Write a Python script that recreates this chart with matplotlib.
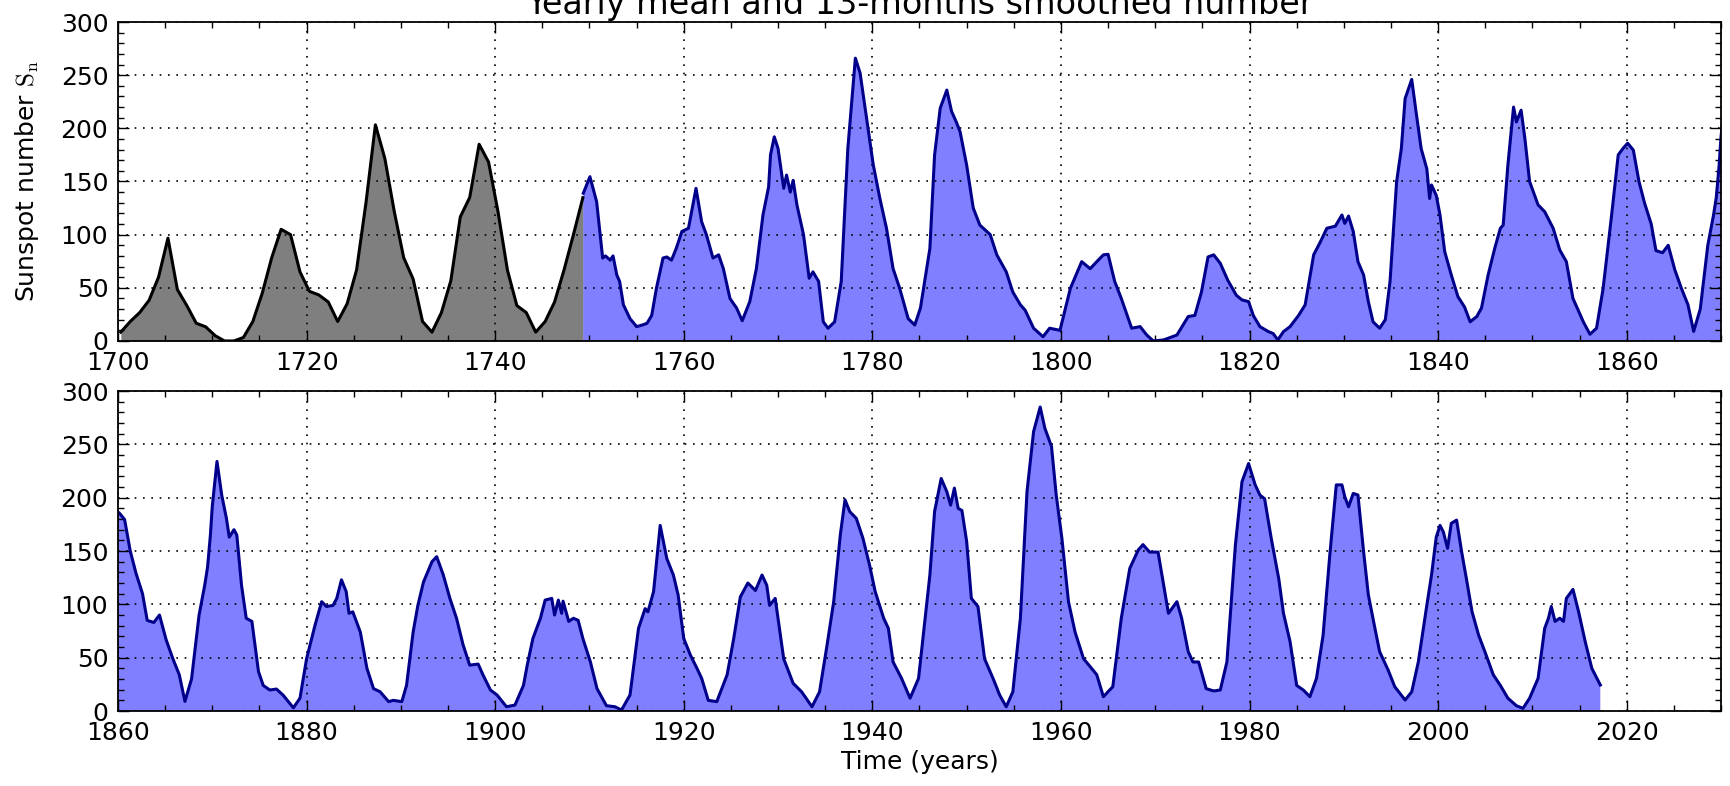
import numpy as np
import matplotlib
matplotlib.use("Agg")
import matplotlib.pyplot as plt
from matplotlib.ticker import MultipleLocator

# yearly mean sunspot number 1700-1749 (grey part)
yearly_years = np.arange(1700, 1750) + 0.3
yearly_vals = [8.3, 18.3, 26.7, 38.3, 60.0, 96.7, 48.3, 33.3, 16.7, 13.3,
               5.0, 0.0, 0.0, 3.3, 18.3, 45.0, 78.3, 105.0, 100.0, 65.0,
               46.7, 43.3, 36.7, 18.3, 35.0, 66.7, 130.0, 203.3, 171.7, 121.7,
               78.3, 58.3, 18.3, 8.3, 26.7, 56.7, 116.7, 135.0, 185.0, 168.3,
               121.7, 66.7, 33.3, 26.7, 8.3, 18.3, 36.7, 66.7, 100.0, 134.8]

# 13-months smoothed number
smooth_years = [
    1749.35, 1750.05, 1750.76, 1751.4, 1751.7, 1752.2, 1752.5, 1752.9, 1753.2, 1753.6,
    1754.3, 1755.0, 1755.6, 1756.1, 1756.6, 1757.1, 1757.8, 1758.2, 1758.7, 1759.2,
    1759.8, 1760.5, 1761.3, 1761.9, 1762.4, 1763.1, 1763.7, 1764.2, 1764.9, 1765.6,
    1766.2, 1767.0, 1767.7, 1768.4, 1769.0, 1769.2, 1769.6, 1770.0, 1770.6, 1770.9,
    1771.3, 1771.6, 1772.0, 1772.7, 1773.3, 1773.7, 1774.3, 1774.8, 1775.3, 1776.0,
    1776.7, 1777.4, 1778.2, 1778.7, 1779.4, 1780.1, 1780.8, 1781.5, 1782.2, 1782.9,
    1783.8, 1784.5, 1785.1, 1786.1, 1786.6, 1787.2, 1787.9, 1788.4, 1788.9, 1789.3,
    1790.0, 1790.7, 1791.4, 1792.5, 1793.2, 1794.2, 1794.9, 1795.7, 1796.2, 1797.1,
    1798.1, 1798.8, 1799.9, 1801.0, 1802.2, 1803.1, 1803.8, 1804.5, 1805.0, 1805.7,
    1806.4, 1807.5, 1808.4, 1809.1, 1809.8, 1810.9, 1812.3, 1813.5, 1814.2, 1814.9,
    1815.6, 1816.2, 1816.9, 1817.7, 1818.6, 1819.2, 1819.9, 1820.4, 1821.1, 1822.0,
    1822.5, 1823.0, 1823.6, 1824.3, 1825.2, 1825.9, 1826.8, 1827.5, 1828.2, 1829.1,
    1829.8, 1830.1, 1830.5, 1831.0, 1831.5, 1832.1, 1832.6, 1833.1, 1833.8, 1834.4,
    1834.9, 1835.6, 1836.1, 1836.5, 1837.2, 1837.7, 1838.2, 1838.8, 1839.1, 1839.3,
    1839.8, 1840.2, 1840.7, 1841.4, 1842.1, 1842.8, 1843.4, 1844.1, 1844.6, 1845.3,
    1846.0, 1846.6, 1846.9, 1847.4, 1848.0, 1848.3, 1848.8, 1849.2, 1849.7, 1850.6,
    1851.3, 1852.2, 1852.9, 1853.6, 1854.3, 1855.4, 1856.1, 1856.8, 1857.5, 1858.4,
    1859.1, 1859.6, 1860.1, 1860.7, 1861.3, 1861.9, 1862.6, 1863.1, 1863.8, 1864.4,
    1865.1, 1865.8, 1866.5, 1867.1, 1867.8, 1868.6, 1869.2, 1869.5, 1869.8, 1870.0,
    1870.5, 1871.0, 1871.5, 1871.8, 1872.3, 1872.6, 1873.1, 1873.6, 1874.2, 1874.9,
    1875.4, 1876.1, 1876.8, 1877.5, 1878.6, 1879.3, 1880.0, 1880.9, 1881.6, 1882.1,
    1882.8, 1883.2, 1883.7, 1884.2, 1884.5, 1884.9, 1885.7, 1886.4, 1887.1, 1887.8,
    1888.7, 1889.2, 1890.1, 1890.6, 1891.3, 1891.8, 1892.4, 1893.3, 1893.8, 1894.5,
    1895.2, 1895.9, 1896.6, 1897.3, 1898.2, 1898.7, 1899.5, 1900.2, 1901.2, 1902.1,
    1903.0, 1903.4, 1904.0, 1904.8, 1905.3, 1906.0, 1906.3, 1906.7, 1907.05, 1907.2,
    1907.8, 1908.3, 1908.8, 1909.3, 1910.1, 1910.8, 1911.8, 1912.7, 1913.4, 1914.3,
    1915.2, 1915.9, 1916.2, 1916.8, 1917.5, 1918.2, 1918.9, 1919.4, 1920.0, 1920.7,
    1921.4, 1921.9, 1922.6, 1923.5, 1924.6, 1925.3, 1926.0, 1926.8, 1927.6, 1928.3,
    1928.8, 1929.1, 1929.7, 1930.6, 1931.6, 1932.5, 1933.6, 1934.4, 1935.2, 1935.9,
    1936.6, 1937.1, 1937.6, 1938.3, 1939.0, 1939.7, 1940.3, 1941.2, 1941.7, 1942.2,
    1943.1, 1944.0, 1944.9, 1945.6, 1946.1, 1946.6, 1947.3, 1947.9, 1948.3, 1948.7,
    1949.1, 1949.5, 1950.0, 1950.5, 1951.2, 1951.9, 1952.8, 1953.5, 1954.2, 1954.9,
    1955.7, 1956.4, 1957.1, 1957.8, 1958.3, 1959.0, 1959.5, 1960.1, 1960.8, 1961.5,
    1962.4, 1963.1, 1963.8, 1964.5, 1965.5, 1966.4, 1967.3, 1968.2, 1968.7, 1969.4,
    1970.3, 1970.9, 1971.4, 1972.3, 1972.8, 1973.5, 1974.0, 1974.6, 1975.4, 1976.2,
    1976.9, 1977.6, 1978.5, 1979.2, 1979.9, 1980.6, 1981.1, 1981.6, 1982.3, 1983.1,
    1983.6, 1984.3, 1985.0, 1985.7, 1986.4, 1987.1, 1987.8, 1988.5, 1989.2, 1989.8,
    1990.1, 1990.5, 1991.0, 1991.5, 1992.1, 1992.6, 1993.3, 1993.8, 1994.7, 1995.4,
    1996.5, 1997.2, 1997.9, 1998.8, 1999.3, 1999.8, 2000.2, 2000.55, 2001.0, 2001.4,
    2001.96, 2002.5, 2003.0, 2003.6, 2004.3, 2004.96, 2005.85, 2006.6, 2007.4, 2008.3,
    2009.0, 2009.7, 2010.6, 2011.3, 2011.7, 2012.0, 2012.4, 2012.9, 2013.3, 2013.6,
    2014.3, 2014.9, 2015.6, 2016.3, 2017.2]
smooth_vals = [
    139, 154.5, 131, 78, 80, 76, 80, 62, 56, 34,
    21, 13.5, 15, 16.6, 24, 49.5, 78, 79, 76, 87,
    103, 106, 143.6, 112, 100, 78, 81, 68, 40, 31,
    19, 37, 68, 118.5, 145, 175, 192, 181, 143.6, 156,
    140, 151, 128, 100, 59, 65, 56, 18, 12, 18,
    56, 181, 266, 252, 209, 165.5, 134, 106, 68, 49.5,
    21, 15, 31, 87, 175, 219, 236, 216, 206, 197,
    165.5, 125, 109, 100, 81, 65, 46, 34, 29, 12,
    4, 12, 10, 49.5, 74.6, 68, 74.6, 81, 81.5, 56,
    40, 12, 13.5, 5.6, 0, 1, 5.6, 23, 24, 46,
    79, 81, 73, 57, 43, 38.6, 37, 24, 13.5, 8.8,
    7, 1, 8.8, 13.5, 24, 34, 81, 93, 106, 108,
    118.5, 110.6, 117.5, 103, 74.6, 62, 37, 18, 12, 20,
    56, 150, 181, 228, 246, 213, 181, 162, 134, 146.7,
    137, 118.5, 84, 62, 41.7, 32, 18, 23, 31, 62,
    87, 106, 109, 165.5, 220, 206, 217, 190.6, 150, 128,
    121.6, 106, 85.6, 74.6, 40, 18, 6.3, 12, 49.5, 118.5,
    175, 181, 186, 179.6, 150, 129.5, 110, 85, 83, 90,
    67, 49.5, 34, 9, 30, 90, 118, 135, 165, 192,
    234, 202.5, 180.6, 163, 170, 165, 118, 87, 84, 37,
    24, 19.7, 20.6, 15, 3, 12, 49, 80.6, 102.5, 98,
    99, 105.6, 123, 112, 91.6, 93, 74, 40, 21, 18,
    8.8, 10, 8.8, 24, 74, 99, 121, 140, 144.7, 127.5,
    105.6, 87, 62, 43, 44, 34, 19.7, 15, 4, 5.6,
    24, 43, 68, 87, 104, 105.6, 90, 104, 91.6, 103,
    84, 87, 85, 68, 46, 21, 5, 4, 1, 15,
    77.5, 96, 93, 112, 174, 143, 127.5, 109, 68, 52.5,
    40, 30.6, 10, 8.8, 34, 68, 107, 120, 113, 127.5,
    118, 99, 105.6, 49, 26, 18, 4, 18, 62, 102.5,
    165, 198, 187, 180.6, 162, 137, 112, 87, 77.5, 46,
    30.6, 12, 30.6, 87, 127.5, 187, 218, 205.6, 193, 209,
    190, 188, 159, 105.6, 98, 49, 30.6, 15, 4, 18,
    87, 205.6, 262, 285, 265, 248, 202.5, 162, 102.5, 74,
    49, 41.6, 34, 13.4, 22.8, 87, 133.7, 151, 156, 149,
    149, 118, 91.6, 102.5, 87, 55.6, 46, 46, 21, 18.8,
    19.7, 46, 155.6, 215, 232, 212, 202.5, 199, 162, 124,
    91.6, 65, 24, 19.7, 13.4, 30.6, 71, 145, 212, 212,
    201, 191.5, 204, 202.5, 149, 109, 77.5, 55.6, 38.4, 22.8,
    10.3, 18, 46, 99, 127.5, 163, 174, 168, 152.5, 176,
    179, 149, 124, 93, 71, 55.6, 34, 24, 12, 5,
    2.5, 12, 30.6, 77.5, 87, 98, 84, 87, 84, 105.6,
    114, 93, 65, 40, 24.4]

plt.rcParams['mathtext.fontset'] = 'cm'

fig = plt.figure(figsize=(17.3, 7.86), dpi=100)
ax1 = fig.add_axes([0.0682, 0.5662, 0.9266, 0.4058])
ax2 = fig.add_axes([0.0682, 0.0954, 0.9266, 0.4071])


def draw(ax, lo, hi):
    ax.fill_between(yearly_years, yearly_vals, color='k', alpha=0.5, lw=0)
    ax.plot(yearly_years, yearly_vals, color='k', lw=2.2)
    ax.fill_between(smooth_years, smooth_vals, color='b', alpha=0.5, lw=0)
    ax.plot(smooth_years, smooth_vals, color='#00008b', lw=2.2)
    ax.set_xlim(lo, hi)
    ax.set_ylim(0, 300)
    ax.xaxis.set_major_locator(MultipleLocator(20))
    ax.xaxis.set_minor_locator(MultipleLocator(5))
    ax.yaxis.set_major_locator(MultipleLocator(50))
    ax.yaxis.set_minor_locator(MultipleLocator(10))
    ax.grid(True, which='major', ls=(0, (1, 4)), color='k', lw=1.2)
    ax.tick_params(which='both', direction='in', top=True, right=True,
                   labelsize=18, pad=7)
    ax.tick_params(which='major', length=8, width=1)
    ax.tick_params(which='minor', length=4, width=1)
    for s in ax.spines.values():
        s.set_linewidth(1.3)


draw(ax1, 1700, 1870)
draw(ax2, 1860, 2030)

ax1.set_title('Yearly mean and 13-months smoothed number', fontsize=24, pad=6)
ax1.set_ylabel(r'Sunspot number $\mathrm{S_n}$', fontsize=18, labelpad=14)
ax2.set_xlabel('Time (years)', fontsize=18)

fig.savefig('out.png', dpi=100)
